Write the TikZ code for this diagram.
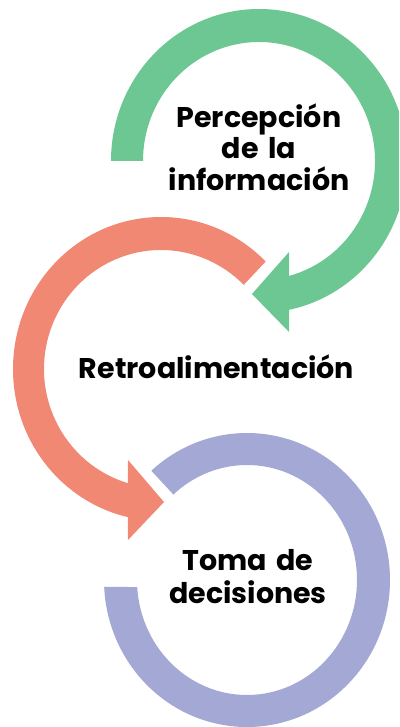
\documentclass[tikz,border=0pt]{standalone}
\usepackage{fontspec}
\setmainfont{Poppins}[WordSpace=1.6]
\definecolor{verde}{RGB}{109,199,146}
\definecolor{salmon}{RGB}{240,136,115}
\definecolor{lila}{RGB}{163,168,213}
\begin{document}
\begin{tikzpicture}[x=1pt,y=-1pt,
  lbl/.style={font=\bfseries\fontsize{28.5}{31.5}\selectfont, align=center, inner sep=0pt, text=black}]
\useasboundingbox (0,0) rectangle (399,727);
\clip (0,0) rectangle (399,727);
% green arc with arrow
\fill[verde, shift={(259,161)}] (180:148 and 152)
  arc[start angle=180, end angle=438.3, x radius=148, y radius=152]
  -- (30,171) -- (-7,133) -- (30,91)
  -- (435:116 and 119)
  arc[start angle=435, end angle=180, x radius=116, y radius=119] -- cycle;
% salmon arc with arrow
\fill[salmon, shift={(161,369)}] (315:148 and 152)
  arc[start angle=315, end angle=102.9, x radius=148, y radius=152]
  -- (-33,171) -- (3,133) -- (-33,91)
  -- (106.4:117 and 119)
  arc[start angle=106.4, end angle=315, x radius=117, y radius=119] -- cycle;
% lilac arc
\fill[lila, shift={(247,580)}] (228:143 and 147)
  arc[start angle=228, end angle=537.3, x radius=143, y radius=147]
  -- (536.5:110 and 115)
  arc[start angle=536.5, end angle=228, x radius=110, y radius=115] -- cycle;
\node[lbl] (perc) at (259,147) {Percepción\\de la\\información};
\node[lbl, anchor=base] (retro) at (216.5,378) {Retroalimentación};
\node[lbl, font=\bfseries\fontsize{28.5}{33}\selectfont] (toma) at (248,577) {Toma de\\decisiones};
\end{tikzpicture}
\end{document}
